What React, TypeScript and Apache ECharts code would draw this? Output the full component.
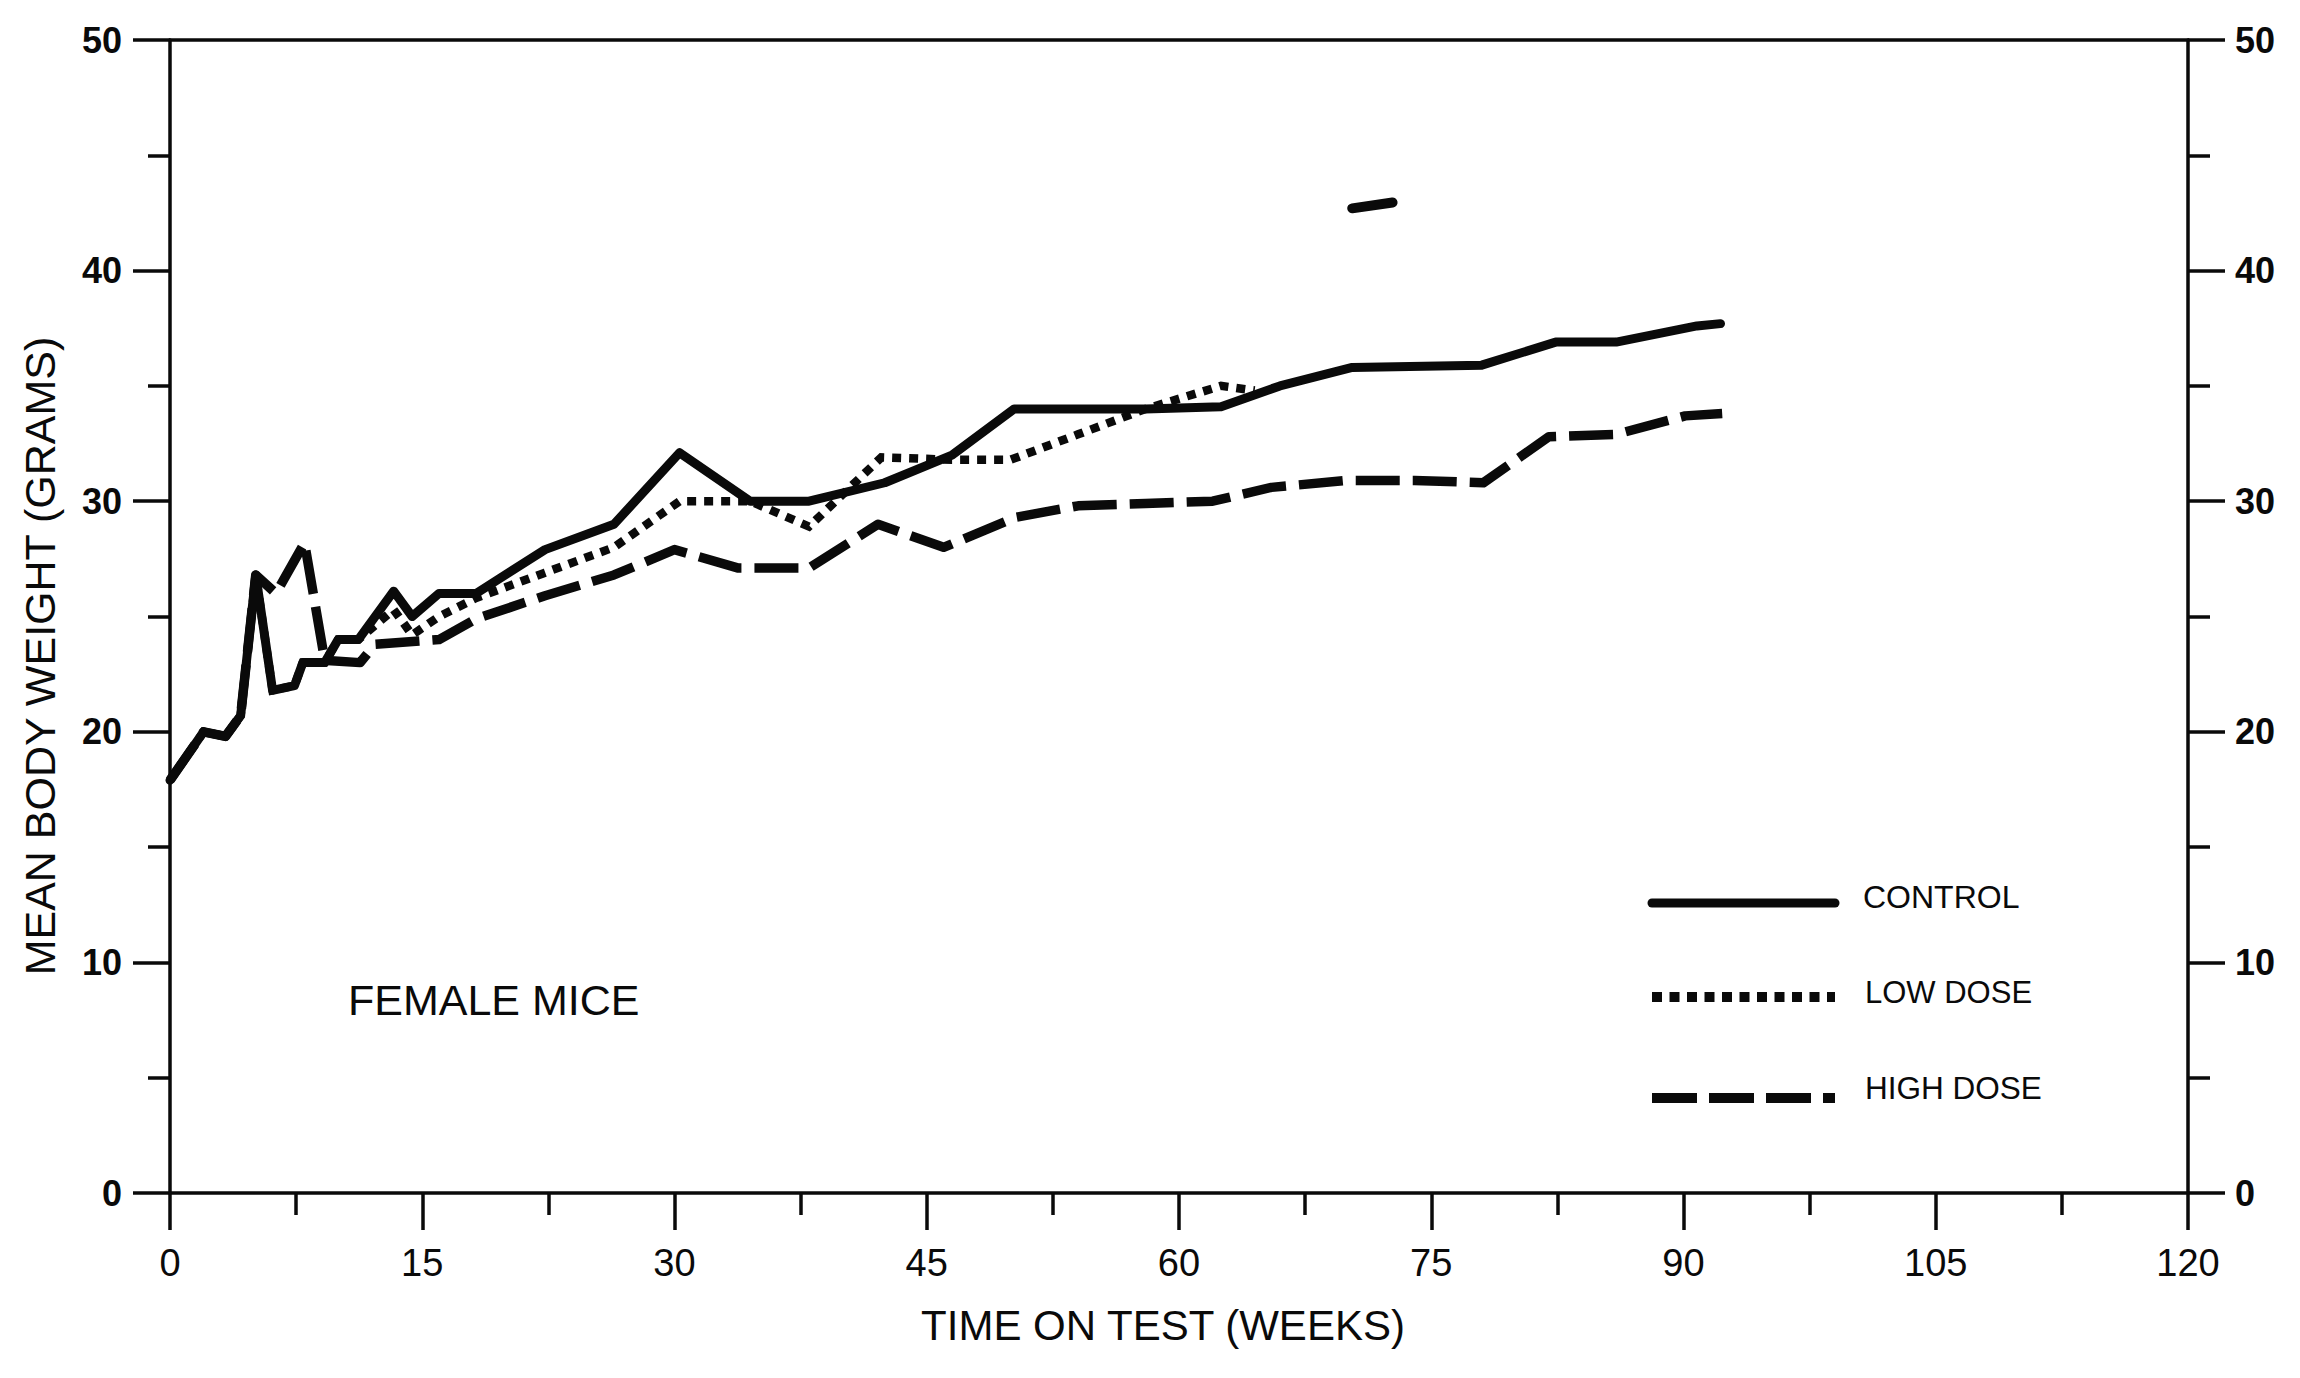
import React, { useEffect, useRef } from "react";
import * as echarts from "echarts";

// ---- data ----
const controlWeeks = [0, 2, 3.3, 4.2, 5.1, 6.1, 7.4, 7.9, 9.2, 10, 11.2, 13.3, 14.4, 16, 18.2, 22.3, 26.4, 30.3, 34.5, 38, 42.5, 46.5, 50.2, 58, 62.5, 66, 70.3, 78, 82.4, 86, 90.8, 92.2];
const controlWeight = [17.9, 20.0, 19.8, 20.7, 26.8, 21.8, 22.0, 23.0, 23.0, 24.0, 24.0, 26.1, 25.0, 26.0, 26.0, 27.9, 29.0, 32.1, 30.0, 30.0, 30.8, 32.0, 34.0, 34.0, 34.1, 35.0, 35.8, 35.9, 36.9, 36.9, 37.6, 37.7];

const lowDoseWeeks = [0, 2, 3.3, 4.2, 5.1, 6.1, 7.4, 7.9, 9.2, 10, 11.2, 13.3, 14.4, 16, 18.2, 22.3, 26.4, 30.3, 34.5, 38, 42.3, 46.5, 50, 54, 58, 62.5, 64.5];
const lowDoseWeight = [17.9, 20.0, 19.8, 20.7, 26.8, 21.8, 22.0, 23.0, 23.0, 24.0, 24.0, 25.3, 24.2, 25.0, 25.8, 26.9, 28.0, 30.0, 30.0, 28.9, 31.9, 31.8, 31.8, 32.9, 34.0, 35.0, 34.8];

const highDoseWeeks = [0, 2, 3.3, 4.2, 5.1, 6.3, 8.0, 9.2, 11.3, 12.2, 16, 18.2, 22.3, 26.4, 30.0, 33.8, 38, 42.1, 46, 50.3, 54, 58, 62, 65.5, 70, 74, 78.1, 82, 86, 90.1, 92.3];
const highDoseWeight = [17.9, 20.0, 19.8, 20.7, 26.8, 26.0, 28.2, 23.1, 23.0, 23.8, 24.0, 24.9, 25.9, 26.8, 27.9, 27.1, 27.1, 29.0, 28.0, 29.3, 29.8, 29.9, 30.0, 30.6, 30.9, 30.9, 30.8, 32.8, 32.9, 33.7, 33.8];

// isolated dash mark near the top of the plot
const strayWeeks = [70.3, 72.7];
const strayWeight = [42.7, 42.95];

const xTicks = { min: 0, max: 120, interval: 15 };
const yTicks = { min: 0, max: 50, interval: 10 };

const seriesNames = ["CONTROL", "LOW DOSE", "HIGH DOSE"];
const annotation = "FEMALE MICE";
const xTitle = "TIME ON TEST (WEEKS)";
const yTitle = "MEAN BODY WEIGHT (GRAMS)";

const pairs = (xs: number[], ys: number[]) => xs.map((x, i) => [x, ys[i]]);

const INK = "#0a0a0a";
const SANS = "'Liberation Sans', Arial, Helvetica, sans-serif";
const NARROW = "'Liberation Sans Narrow', 'Liberation Sans', Arial, sans-serif";

export default function App() {
  const ref = useRef<HTMLDivElement | null>(null);

  useEffect(() => {
    if (!ref.current) return;
    const chart = echarts.init(ref.current, undefined, { renderer: "svg" });

    const axisLine = { show: true, onZero: false, lineStyle: { color: INK, width: 3.5 } };

    const yAxisBase = (pos: "left" | "right", margin: number) => ({
      type: "value",
      position: pos,
      min: yTicks.min,
      max: yTicks.max,
      interval: yTicks.interval,
      axisLine,
      axisTick: { show: true, inside: false, length: 37, lineStyle: { color: INK, width: 3.5 } },
      minorTick: { show: true, splitNumber: 2, length: 22, lineStyle: { color: INK, width: 3.5 } },
      splitLine: { show: false },
      minorSplitLine: { show: false },
      axisLabel: {
        show: true,
        margin,
        color: INK,
        fontSize: 36,
        fontWeight: "bold",
        fontFamily: SANS,
      },
    });

    const option: any = {
      animation: false,
      backgroundColor: "#ffffff",
      grid: { left: 170, right: 112, top: 40, bottom: 185, containLabel: false },
      xAxis: [
        {
          type: "value",
          position: "bottom",
          min: xTicks.min,
          max: xTicks.max,
          interval: xTicks.interval,
          axisLine,
          axisTick: { show: true, inside: false, length: 37, lineStyle: { color: INK, width: 3.5 } },
          minorTick: { show: true, splitNumber: 2, length: 22, lineStyle: { color: INK, width: 3.5 } },
          splitLine: { show: false },
          minorSplitLine: { show: false },
          axisLabel: {
            show: true,
            margin: 51,
            color: INK,
            fontSize: 38,
            fontFamily: NARROW,
          },
          name: xTitle,
          nameLocation: "middle",
          nameGap: 111,
          nameTextStyle: { color: INK, fontSize: 42, fontFamily: SANS, padding: [0, 32, 0, 0] },
        },
        {
          type: "value",
          position: "top",
          min: xTicks.min,
          max: xTicks.max,
          interval: xTicks.interval,
          axisLine,
          axisTick: { show: false },
          axisLabel: { show: false },
          splitLine: { show: false },
        },
      ],
      yAxis: [yAxisBase("left", 48), yAxisBase("right", 47)],
      series: [
        {
          name: seriesNames[0],
          type: "line",
          xAxisIndex: 0,
          yAxisIndex: 0,
          data: pairs(controlWeeks, controlWeight),
          showSymbol: false,
          symbol: "none",
          lineStyle: { color: INK, width: 9, type: "solid", cap: "round", join: "round" },
          z: 3,
        },
        {
          name: seriesNames[1],
          type: "line",
          xAxisIndex: 0,
          yAxisIndex: 0,
          data: pairs(lowDoseWeeks, lowDoseWeight),
          showSymbol: false,
          symbol: "none",
          lineStyle: { color: INK, width: 8.5, type: [9, 8], cap: "butt", join: "miter" },
          z: 2,
        },
        {
          name: seriesNames[2],
          type: "line",
          xAxisIndex: 0,
          yAxisIndex: 0,
          data: pairs(highDoseWeeks, highDoseWeight),
          showSymbol: false,
          symbol: "none",
          lineStyle: { color: INK, width: 9.5, type: [44, 13], cap: "butt", join: "round" },
          z: 2,
        },
        {
          name: "stray",
          type: "line",
          xAxisIndex: 0,
          yAxisIndex: 0,
          data: pairs(strayWeeks, strayWeight),
          showSymbol: false,
          symbol: "none",
          lineStyle: { color: INK, width: 10, cap: "round" },
          z: 2,
        },
      ],
      graphic: [
        {
          type: "text",
          x: 40,
          y: 656,
          rotation: Math.PI / 2,
          style: {
            text: yTitle,
            fill: INK,
            fontSize: 43,
            fontFamily: SANS,
            align: "center",
            verticalAlign: "middle",
          },
        },
        {
          type: "text",
          x: 348,
          y: 1000,
          style: { text: annotation, fill: INK, fontSize: 43, fontFamily: SANS, verticalAlign: "middle" },
        },
        // legend samples
        {
          type: "line",
          shape: { x1: 1652, y1: 903, x2: 1835, y2: 903 },
          style: { stroke: INK, lineWidth: 9, lineCap: "round" },
        },
        {
          type: "line",
          shape: { x1: 1652, y1: 997, x2: 1835, y2: 997 },
          style: { stroke: INK, lineWidth: 10, lineDash: [10, 7.5], lineCap: "butt" },
        },
        {
          type: "line",
          shape: { x1: 1652, y1: 1098, x2: 1835, y2: 1098 },
          style: { stroke: INK, lineWidth: 10, lineDash: [45, 12], lineCap: "butt" },
        },
        {
          type: "text",
          x: 1863,
          y: 897,
          style: { text: seriesNames[0], fill: INK, fontSize: 32, fontFamily: SANS, verticalAlign: "middle" },
        },
        {
          type: "text",
          x: 1865,
          y: 992,
          style: { text: seriesNames[1], fill: INK, fontSize: 31, fontFamily: SANS, verticalAlign: "middle" },
        },
        {
          type: "text",
          x: 1865,
          y: 1088,
          style: { text: seriesNames[2], fill: INK, fontSize: 31.5, fontFamily: SANS, verticalAlign: "middle" },
        },
      ],
    };

    chart.setOption(option);
    return () => {
      chart.dispose();
    };
  }, []);

  return (
    <div
      ref={ref}
      style={{ position: "absolute", left: 0, top: 0, width: 2300, height: 1378, background: "#fff" }}
    />
  );
}
